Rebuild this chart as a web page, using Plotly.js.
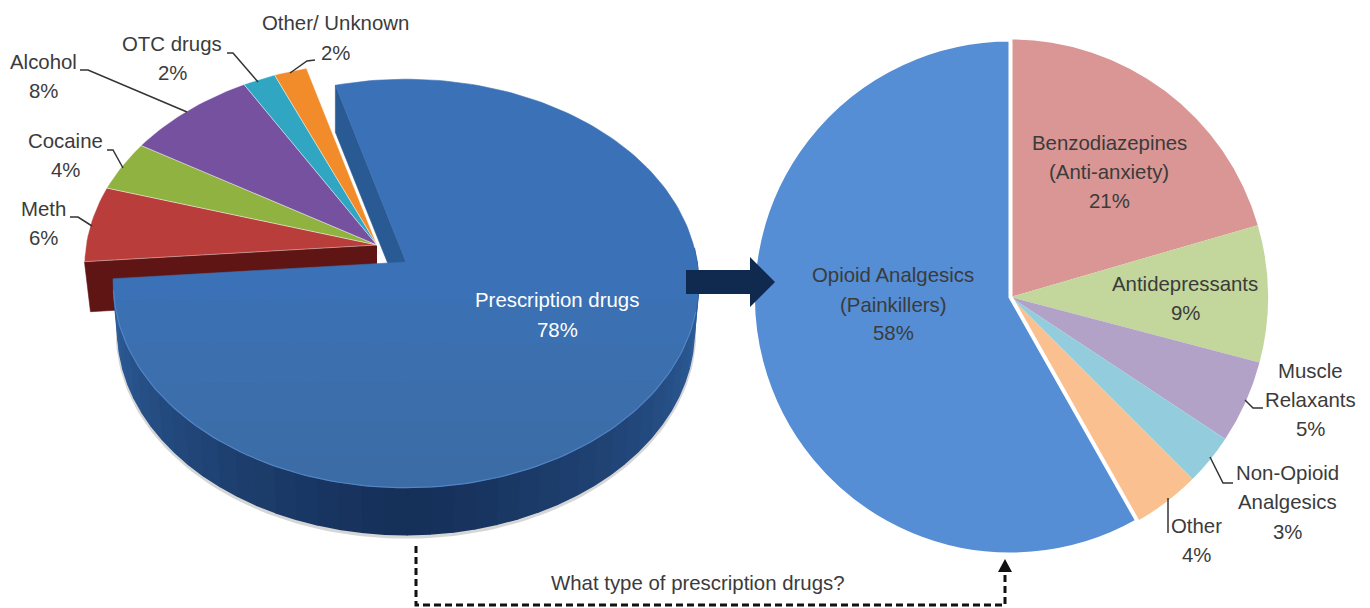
<!DOCTYPE html>
<html>
<head>
<meta charset="utf-8">
<script src="https://cdn.plot.ly/plotly-3.0.1.min.js"></script>
<style>html,body{margin:0;padding:0;background:#fff}#chart{width:1370px;height:608px}</style>
</head>
<body>
<div id="chart"></div>
<script>
// ---- data ----
const abuseCategories = ["Prescription drugs", "Meth", "Cocaine", "Alcohol", "OTC drugs", "Other/ Unknown"];
const abuseValues = [78, 6, 4, 8, 2, 2];
const abuseColors = ["#3b71b6", "#b93d3a", "#8fb240", "#76519f", "#30a6c3", "#f28c2b"];

const rxCategories = ["Benzodiazepines<br>(Anti-anxiety)", "Antidepressants", "Muscle<br>Relaxants", "Non-Opioid<br>Analgesics", "Other", "Opioid Analgesics<br>(Painkillers)"];
const rxValues = [20.5, 8.6, 5.2, 3.2, 4.3, 58.2];
const rxColors = ["#d99694", "#c3d69b", "#b3a2c7", "#93cddd", "#fac090", "#558ed5"];

const questionText = "What type of prescription drugs?";

// ---- tilted pie projection (a circle seen in perspective) ----
const FONT = "Liberation Sans, Arial, sans-serif";
const FONT_SIZE = 20.4;
const TEXT = "#3b3b3b";
const view = {ax: 406, ay: 262, A: 291, B: 202, k: 0.105, start: 105.5};
const burst = {dx: -29, dy: -17};
const depth = 47;
const rad = d => d * Math.PI / 180;

function project(theta, o) {
  const u = Math.cos(rad(theta)), v = Math.sin(rad(theta)), w = 1 + view.k * v;
  return [view.ax + o.dx + view.A * u / w, view.ay + o.dy - view.B * v / w];
}
function arc(a0, a1, o) {
  const n = Math.max(2, Math.ceil(Math.abs(a1 - a0) / 1.5)), out = [];
  for (let i = 0; i <= n; i++) out.push(project(a0 + (a1 - a0) * i / n, o));
  return out;
}
function poly(pts, color, line) {
  return {type: "scatter", mode: "lines", x: pts.map(p => p[0]), y: pts.map(p => p[1]),
    fill: "toself", fillcolor: color, line: line || {width: 0.6, color: color},
    hoverinfo: "skip", showlegend: false};
}
function stroke(pts, color, width) {
  return {type: "scatter", mode: "lines", x: pts.map(p => p[0]), y: pts.map(p => p[1]),
    line: {color: color, width: width}, hoverinfo: "skip", showlegend: false};
}
function mix(c1, c2, t) {
  return "rgb(" + c1.map((c, i) => Math.round(c + (c2[i] - c) * t)).join(",") + ")";
}

const traces = [];
const total = abuseValues.reduce((a, b) => a + b, 0);
const sweeps = abuseValues.map(v => v / total * 360);
const end0 = view.start - sweeps[0];           // main slice runs clockwise from start
const home = {dx: 0, dy: 0};

// exploded slices: cut face of the first one
let cursor = end0;
const mEdge = project(cursor, burst);
const apexB = [view.ax + burst.dx, view.ay + burst.dy];
traces.push(poly([apexB, mEdge, [mEdge[0] + 6, mEdge[1] + 50], [apexB[0], apexB[1] + 50]], "#5e1514"));

// exploded slices: top faces
for (let i = 1; i < abuseValues.length; i++) {
  const next = cursor - sweeps[i];
  traces.push(poly([apexB].concat(arc(cursor, next, burst)).concat([apexB]), abuseColors[i],
    {width: 0.8, color: "rgba(255,255,255,0.5)"}));
  cursor = next;
}

// main slice: cut face behind the top face
const apex = [view.ax, view.ay];
const sEdge = project(view.start, home);
traces.push(poly([apex, sEdge, [sEdge[0], sEdge[1] + depth], [apex[0], apex[1] + depth]], "#2a5a94"));

// soft shadow under the wall
const wallAt = p => [view.ax + (p[0] - view.ax) * 0.985, p[1] + depth];
const shadowPts = arc(2, end0, home).map(wallAt).map(p => [p[0], p[1] + 2]);
traces.push(stroke(shadowPts, "rgba(90,90,90,0.25)", 4));

// main slice: outer wall, shaded in bands
const bands = 44;
const edgeShade = [50, 102, 166], midShade = [21, 47, 88];
for (let i = 0; i < bands; i++) {
  const a0 = 4 + (end0 - 4) * i / bands, a1 = 4 + (end0 - 4) * (i + 1) / bands;
  const top = arc(a0, a1, home), low = top.map(wallAt).reverse();
  const mid = (a0 + a1) / 2 + 90;                // 0 at the front of the pie
  const t = Math.pow(Math.abs(mid) / 94, 1.15);
  const c = mix(midShade, edgeShade, Math.min(1, t));
  traces.push(poly(top.concat(low), c, {width: 1.6, color: c}));
}

// main slice: top face, a little darker toward the front, and its rim
const faceArc = arc(view.start, end0, home);
traces.push(poly([apex].concat(faceArc).concat([apex]), abuseColors[0]));
[300, 340, 380, 420, 455].forEach(yCut => {
  traces.push(poly(faceArc.filter(p => p[1] > yCut), "rgba(50,95,110,0.05)", {width: 0}));
});
traces.push(stroke(arc(-14, -172, home), "#5384c4", 1.2));

// second chart: ordinary pie
traces.push({type: "pie", values: rxValues, labels: rxCategories, sort: false, direction: "clockwise",
  rotation: 0, textinfo: "none", hoverinfo: "label+percent", showlegend: false,
  marker: {colors: rxColors, line: {color: "#ffffff", width: rxValues.map((v, i) => i === 5 ? 4 : 0)}},
  domain: {x: [753 / 1370, 1268 / 1370], y: [(608 - 555) / 608, (608 - 39) / 608]}});

// ---- text ----
const line = (text, cx, y, color) => ({
  text: text, x: cx, y: y, xref: "x", yref: "y", xanchor: "center", yanchor: "middle",
  showarrow: false, font: {family: FONT, size: FONT_SIZE, color: color || TEXT}
});
const label = (name, value, cx, ys, color) =>
  name.split("<br>").concat(Math.round(value) + "%").map((t, i) => line(t, cx, ys[i], color));

const annotations = [].concat(
  label(abuseCategories[0], abuseValues[0], 557, [300, 330], "#ffffff"),
  label(abuseCategories[1], abuseValues[1], 43, [209, 238]),
  label(abuseCategories[2], abuseValues[2], 65, [141, 170]),
  label(abuseCategories[3], abuseValues[3], 43, [62, 91]),
  label(abuseCategories[4], abuseValues[4], 172, [44, 73]),
  label(abuseCategories[5], abuseValues[5], 335, [23, 53]),
  label(rxCategories[0], rxValues[0], 1109, [143, 172, 201]),
  label(rxCategories[1], rxValues[1], 1185, [284, 313]),
  label(rxCategories[2], rxValues[2], 1310, [371, 400, 429]),
  label(rxCategories[3], rxValues[3], 1287, [473, 502, 532]),
  label(rxCategories[4], rxValues[4], 1196, [526, 555]),
  label(rxCategories[5], rxValues[5], 893, [275, 305, 333]),
  [line(questionText, 698, 583)]
);

// ---- connectors ----
const leader = d => ({type: "path", xref: "x", yref: "y", path: d, line: {color: "#333333", width: 1.5}});
const shapes = [
  leader("M80,70 L88,70 L187,112"),
  leader("M107,150 L113,150 L123,168"),
  leader("M70,217 L78,217 L92,226"),
  leader("M227,53 L233,53 L258,82"),
  leader("M315,60 L307,61 L290,73"),
  leader("M1263,408 L1253,408 L1245,400"),
  leader("M1233,483 L1223,483 L1210,457"),
  leader("M1168,533 L1168,498"),
  {type: "path", xref: "x", yref: "y", path: "M686,270 L750,270 L750,257 L775,282 L750,307 L750,294 L686,294 Z",
   fillcolor: "#10294f", line: {width: 0}},
  {type: "path", xref: "x", yref: "y", path: "M416,546 L416,605 L1005,605 L1005,572",
   line: {color: "#111111", width: 3, dash: "7px,4px"}},
  {type: "path", xref: "x", yref: "y", path: "M998,572 L1012,572 L1005,559 Z", fillcolor: "#111111", line: {width: 0}}
];

const layout = {
  width: 1370, height: 608, margin: {l: 0, r: 0, t: 0, b: 0},
  paper_bgcolor: "#ffffff", plot_bgcolor: "#ffffff", showlegend: false, hovermode: "closest",
  xaxis: {visible: false, range: [0, 1370], fixedrange: true, domain: [0, 1]},
  yaxis: {visible: false, range: [608, 0], fixedrange: true, domain: [0, 1]},
  annotations: annotations, shapes: shapes
};
Plotly.newPlot("chart", traces, layout, {displayModeBar: false});
</script>
</body>
</html>
